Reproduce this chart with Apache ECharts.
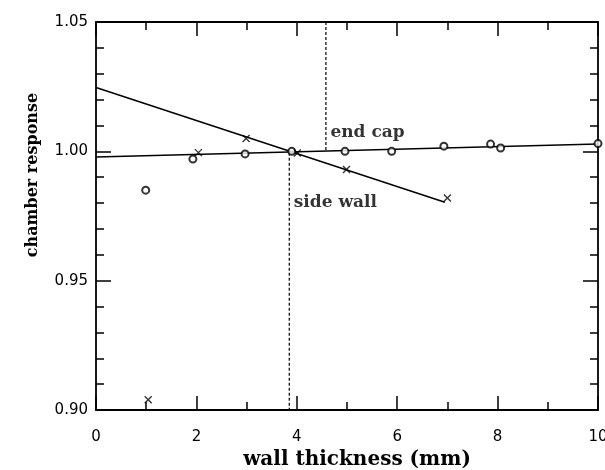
<!DOCTYPE html>
<html>
<head>
<meta charset="utf-8">
<script src="https://cdn.jsdelivr.net/npm/echarts@6/dist/echarts.min.js"></script>
<style>
  html, body { margin: 0; padding: 0; background: #fff; }
  #chart { width: 605px; height: 470px; }
</style>
</head>
<body>
<div id="chart"></div>
<script>
// end cap measurements (circles)
const endCapX = [0.99, 1.93, 2.97, 3.90, 4.96, 5.89, 6.93, 7.86, 8.06, 10.0];
const endCapY = [0.985, 0.997, 0.999, 1.000, 1.000, 1.000, 1.002, 1.0028, 1.0013, 1.003];

// side wall measurements (crosses)
const sideWallX = [1.04, 2.04, 2.99, 4.01, 4.99, 7.0];
const sideWallY = [0.904, 0.9995, 1.005, 0.9994, 0.993, 0.982];

// fitted lines
const endCapFitX = [0, 10];
const endCapFitY = [0.9978, 1.0028];
const sideWallFitX = [0, 6.95];
const sideWallFitY = [1.0247, 0.9803];

// dashed markers
const endCapDashX = [4.58, 4.58];
const endCapDashY = [1.05, 1.0];
const sideWallDashX = [3.85, 3.85];
const sideWallDashY = [0.9995, 0.90];

// annotations
const labelText = ['end cap', 'side wall'];
const labelX = [4.67, 3.94];
const labelY = [1.0072, 0.980];

const zip = (xs, ys) => xs.map((x, i) => [x, ys[i]]);

const chart = echarts.init(document.getElementById('chart'), null, { renderer: 'canvas' });

const tickFont = { color: '#000', fontFamily: 'DejaVu Sans', fontSize: 15 };
const tickLine = { color: '#000', width: 1.5 };

// major ticks on the frame axes, minor ticks on extra axes without lines
function xAxisAt(position, interval, len, frame) {
  return {
    type: 'value', min: 0, max: 10, interval: interval, position: position,
    axisLine: { show: frame, onZero: false, lineStyle: { color: '#000', width: 1.8 } },
    axisTick: { show: true, inside: true, length: len, lineStyle: tickLine },
    axisLabel: { show: false },
    splitLine: { show: false }
  };
}
function yAxisAt(position, interval, len, frame) {
  return {
    type: 'value', min: 0.90, max: 1.05, interval: interval, position: position,
    axisLine: { show: frame, onZero: false, lineStyle: { color: '#000', width: 1.8 } },
    axisTick: { show: true, inside: true, length: len, lineStyle: tickLine },
    axisLabel: { show: false },
    splitLine: { show: false }
  };
}

const xMain = xAxisAt('bottom', 2, 14, true);
xMain.axisLabel = Object.assign({ show: true, margin: 20 }, tickFont);
xMain.name = 'wall thickness (mm)';
xMain.nameLocation = 'middle';
xMain.nameGap = 27;
xMain.nameTextStyle = { color: '#000', fontFamily: 'DejaVu Serif', fontWeight: 'bold', fontSize: 20, padding: [0, 0, 0, 20] };

const yMain = yAxisAt('left', 0.05, 15, true);
yMain.axisLabel = Object.assign({ show: true, margin: 8, formatter: v => v.toFixed(2) }, tickFont);
yMain.name = 'chamber response';
yMain.nameLocation = 'middle';
yMain.nameGap = 55;
yMain.nameTextStyle = { color: '#000', fontFamily: 'DejaVu Serif', fontWeight: 'bold', fontSize: 16, padding: [0, 0, 0, 82] };

const option = {
  animation: false,
  backgroundColor: '#fff',
  grid: { left: 96, right: 7, top: 22, bottom: 60, outerBoundsMode: 'none' },
  xAxis: [
    xMain,
    xAxisAt('top', 2, 14, true),
    xAxisAt('bottom', 1, 8, false),
    xAxisAt('top', 1, 8, false)
  ],
  yAxis: [
    yMain,
    yAxisAt('right', 0.05, 15, true),
    yAxisAt('left', 0.01, 8, false),
    yAxisAt('right', 0.01, 8, false)
  ],
  series: [
    {
      type: 'line', data: zip(endCapFitX, endCapFitY), showSymbol: false,
      lineStyle: { color: '#000', width: 1.5 }
    },
    {
      type: 'line', data: zip(sideWallFitX, sideWallFitY), showSymbol: false,
      lineStyle: { color: '#000', width: 1.5 }
    },
    {
      type: 'line', data: zip(endCapDashX, endCapDashY), showSymbol: false,
      lineStyle: { color: '#000', width: 1.2, type: [3, 2] }
    },
    {
      type: 'line', data: zip(sideWallDashX, sideWallDashY), showSymbol: false,
      lineStyle: { color: '#000', width: 1.2, type: [3, 2] }
    },
    {
      type: 'scatter', data: zip(endCapX, endCapY), symbol: 'emptyCircle', symbolSize: 7,
      itemStyle: { color: '#000', borderColor: '#000', borderWidth: 1.2 }, z: 5
    },
    {
      type: 'scatter', data: zip(sideWallX, sideWallY),
      symbol: 'path://M0,0L10,10M10,0L0,10', symbolSize: 7,
      itemStyle: { color: 'rgba(0,0,0,0)', borderColor: '#000', borderWidth: 1.4 }, z: 5
    },
    {
      type: 'scatter', symbolSize: 0,
      data: labelText.map((t, i) => ({ value: [labelX[i], labelY[i]], name: t })),
      label: {
        show: true, position: 'right', distance: 0, formatter: p => p.name,
        color: '#000', fontFamily: 'DejaVu Serif', fontWeight: 'bold', fontSize: 17
      }
    }
  ]
};

chart.setOption(option);
</script>
</body>
</html>
